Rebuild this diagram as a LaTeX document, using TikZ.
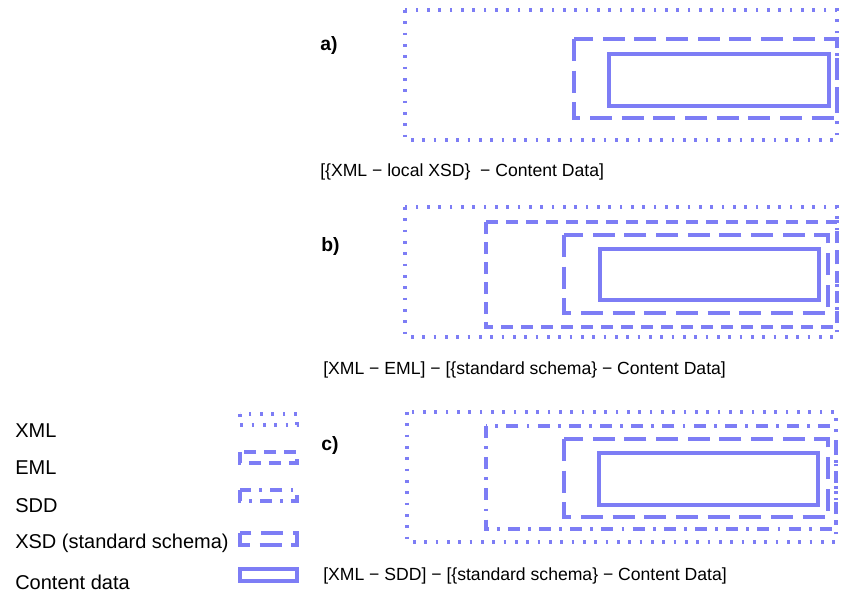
\documentclass[tikz,border=0pt]{standalone}
\usepackage{fontspec}
\setmainfont{Liberation Sans}
\definecolor{boxc}{RGB}{125,125,245}
\begin{document}
\begin{tikzpicture}[x=0.75pt,y=-0.75pt,
  base/.style={draw=boxc,line width=2.3pt},
  xmlbox/.style={base,dash pattern=on 2pt off 6.5pt},
  emlbox/.style={base,dash pattern=on 9pt off 6pt},
  sddbox/.style={base,dash pattern=on 9pt off 6.2pt on 2pt off 6.2pt},
  xsdbox/.style={base,dash pattern=on 16.5pt off 7.25pt},
  contbox/.style={base},
  txt/.style={font=\fontsize{13.2}{15}\selectfont,inner sep=0pt,anchor=west},
  leg/.style={font=\fontsize{15}{17}\selectfont,inner sep=0pt,anchor=west},
  lbl/.style={font=\fontsize{14.5}{16}\selectfont\bfseries,inner sep=0pt,anchor=west}]
\useasboundingbox (0,0) rectangle (841,594);
% panel a
\draw[xmlbox] (405,10) rectangle (837,140);
\draw[xsdbox] (574,39) rectangle (837,118);
\draw[contbox] (609,54) rectangle (829,106);
\node[lbl] (la) at (320,45) {a)};
\node[txt] (ca) at (320,172) {[\{XML − local XSD\}\ \ − Content Data]};
% panel b
\draw[xmlbox] (405,207) rectangle (837,337);
\draw[emlbox] (486,222) rectangle (837,327);
\draw[xsdbox] (564,235) rectangle (828,313);
\draw[contbox] (600,249) rectangle (819,300);
\node[lbl] (lb) at (321,246) {b)};
\node[txt] (cb) at (323,370) {[XML − EML] − [\{standard schema\} − Content Data]};
% panel c
\draw[xmlbox] (407,412) rectangle (836,542);
\draw[sddbox] (486,426) rectangle (836,529);
\draw[xsdbox] (564,439) rectangle (828,517);
\draw[contbox] (599,453) rectangle (818,505);
\node[lbl] (lc) at (321,445) {c)};
\node[txt] (cc) at (323,576) {[XML − SDD] − [\{standard schema\} − Content Data]};
% legend
\node[leg] (t1) at (15,431) {XML};
\node[leg] (t2) at (15,468) {EML};
\node[leg] (t3) at (15,506) {SDD};
\node[leg] (t4) at (15,543) {XSD (standard schema)};
\node[leg] (t5) at (15,582) {Content data};
\draw[xmlbox] (240,414) rectangle (297,425);
\draw[emlbox] (240,452) rectangle (297,463);
\draw[sddbox] (240,490) rectangle (297,501);
\draw[xsdbox] (240,533) rectangle (297,545);
\draw[contbox] (240,569) rectangle (297,581);
\end{tikzpicture}
\end{document}
